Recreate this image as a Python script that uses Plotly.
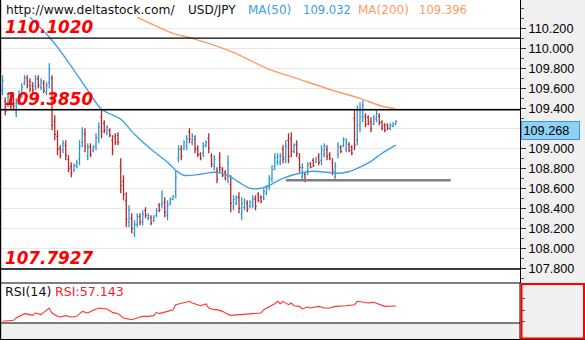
import plotly.graph_objects as go

# ---------------- data ----------------
bar_high = [109.73, 109.51, 109.56, 109.53, 109.55, 109.50, 109.58, 109.65, 109.73, 109.73,
            109.70, 109.66, 109.73, 109.73, 109.70, 109.68, 109.66, 109.85, 109.73, 109.33,
            109.18, 109.03, 109.08, 109.08, 108.93, 108.86, 108.85, 108.88, 109.08, 109.21,
            109.20, 109.05, 109.05, 109.03, 109.15, 109.26, 109.38, 109.28, 109.23, 109.20,
            109.13, 109.15, 109.16, 108.90, 108.73, 108.56, 108.43, 108.35, 108.28, 108.35,
            108.35, 108.38, 108.41, 108.35, 108.33, 108.33, 108.40, 108.45, 108.58, 108.51,
            108.48, 108.51, 108.53, 108.78, 109.03, 109.03, 109.08, 109.13, 109.20, 109.15,
            109.13, 109.03, 108.96, 109.06, 109.08, 109.15, 108.95, 108.93, 108.81, 108.96,
            108.81, 108.78, 108.93, 108.73, 108.53, 108.53, 108.56, 108.51, 108.50, 108.48,
            108.48, 108.53, 108.53, 108.56, 108.53, 108.60, 108.63, 108.73, 108.83, 108.95,
            108.95, 108.95, 109.03, 109.08, 109.15, 109.16, 109.05, 109.08, 108.95, 108.85,
            108.76, 108.86, 108.86, 108.90, 108.91, 108.95, 109.03, 109.05, 109.03, 108.96,
            108.90, 108.86, 109.06, 109.03, 109.11, 109.10, 109.06, 109.03, 109.38, 109.43,
            109.46, 109.48, 109.35, 109.33, 109.31, 109.33, 109.38, 109.35, 109.28, 109.25,
            109.25, 109.25, 109.26, 109.28]
bar_low = [109.53, 109.33, 109.41, 109.38, 109.38, 109.31, 109.43, 109.50, 109.63, 109.60,
           109.56, 109.55, 109.58, 109.60, 109.58, 109.55, 109.53, 109.60, 109.18, 109.08,
           108.93, 108.90, 108.95, 108.88, 108.76, 108.71, 108.76, 108.80, 108.83, 109.01,
           108.96, 108.88, 108.91, 108.96, 108.98, 109.05, 109.10, 109.15, 109.13, 109.11,
           108.93, 109.03, 109.03, 108.55, 108.48, 108.21, 108.21, 108.15, 108.11, 108.21,
           108.23, 108.23, 108.30, 108.28, 108.23, 108.26, 108.31, 108.36, 108.40, 108.31,
           108.28, 108.43, 108.48, 108.50, 108.86, 108.88, 108.98, 108.98, 109.05, 109.03,
           108.95, 108.91, 108.88, 108.91, 109.01, 108.95, 108.81, 108.78, 108.65, 108.76,
           108.71, 108.68, 108.65, 108.36, 108.38, 108.43, 108.35, 108.28, 108.38, 108.36,
           108.40, 108.40, 108.38, 108.46, 108.45, 108.48, 108.53, 108.58, 108.66, 108.78,
           108.83, 108.83, 108.85, 108.85, 108.85, 108.91, 108.95, 108.91, 108.76, 108.68,
           108.66, 108.73, 108.80, 108.81, 108.85, 108.83, 108.83, 108.91, 108.88, 108.88,
           108.73, 108.68, 108.90, 108.95, 109.01, 108.96, 108.96, 108.93, 108.98, 109.03,
           109.16, 109.26, 109.21, 109.23, 109.16, 109.23, 109.26, 109.23, 109.18, 109.16,
           109.18, 109.18, 109.21, 109.23]
bar_open = [109.58, 109.47, 109.45, 109.49, 109.51, 109.36, 109.47, 109.54, 109.65, 109.70,
            109.67, 109.63, 109.62, 109.70, 109.61, 109.65, 109.56, 109.66, 109.70, 109.27,
            109.12, 109.00, 108.98, 109.03, 108.89, 108.82, 108.78, 108.82, 108.89, 109.06,
            109.14, 108.92, 109.02, 108.98, 109.02, 109.10, 109.31, 109.25, 109.15, 109.18,
            109.08, 109.12, 109.13, 108.82, 108.67, 108.48, 108.26, 108.30, 108.15, 108.24,
            108.32, 108.27, 108.38, 108.30, 108.31, 108.28, 108.33, 108.43, 108.44, 108.46,
            108.33, 108.45, 108.49, 108.57, 108.90, 108.99, 109.00, 109.02, 109.16, 109.06,
            109.09, 109.00, 108.94, 108.95, 109.03, 109.10, 108.92, 108.82, 108.77, 108.91,
            108.79, 108.76, 108.72, 108.64, 108.42, 108.45, 108.51, 108.34, 108.41, 108.45,
            108.42, 108.43, 108.49, 108.54, 108.51, 108.51, 108.55, 108.62, 108.70, 108.82,
            108.86, 108.86, 108.99, 108.91, 109.08, 109.10, 108.97, 109.04, 108.90, 108.72,
            108.74, 108.76, 108.85, 108.88, 108.86, 108.92, 108.88, 108.94, 108.99, 108.94,
            108.86, 108.72, 108.94, 109.01, 109.03, 108.99, 109.04, 109.01, 109.30, 109.08,
            109.23, 109.31, 109.32, 109.31, 109.27, 109.25, 109.29, 109.32, 109.26, 109.23,
            109.23, 109.20, 109.22, 109.24]
bar_close = [109.68, 109.37, 109.52, 109.42, 109.42, 109.45, 109.54, 109.61, 109.71, 109.63,
             109.59, 109.58, 109.69, 109.63, 109.67, 109.58, 109.63, 109.79, 109.23, 109.14,
             108.99, 108.93, 109.05, 108.93, 108.80, 108.75, 108.83, 108.86, 109.02, 109.16,
             109.02, 109.01, 108.94, 109.01, 109.11, 109.21, 109.17, 109.18, 109.21, 109.13,
             108.98, 109.06, 109.06, 108.63, 108.54, 108.29, 108.38, 108.20, 108.24, 108.32,
             108.26, 108.34, 108.33, 108.33, 108.25, 108.31, 108.38, 108.38, 108.54, 108.36,
             108.43, 108.49, 108.52, 108.71, 108.99, 108.92, 109.06, 109.09, 109.09, 109.12,
             108.99, 108.94, 108.90, 109.02, 109.06, 109.00, 108.84, 108.89, 108.69, 108.81,
             108.73, 108.70, 108.86, 108.45, 108.49, 108.51, 108.40, 108.45, 108.47, 108.39,
             108.46, 108.50, 108.42, 108.48, 108.47, 108.57, 108.61, 108.69, 108.79, 108.91,
             108.92, 108.92, 108.89, 109.02, 108.92, 108.97, 109.03, 108.95, 108.81, 108.81,
             108.68, 108.83, 108.81, 108.83, 108.90, 108.86, 108.98, 109.02, 108.92, 108.90,
             108.77, 108.82, 109.02, 108.97, 109.09, 109.07, 108.98, 108.95, 109.03, 109.38,
             109.39, 109.43, 109.24, 109.25, 109.20, 109.31, 109.35, 109.26, 109.20, 109.18,
             109.20, 109.23, 109.25, 109.268]
bar_index = list(range(len(bar_close)))

ma50_index = [10, 18, 24, 31, 36, 43, 48, 54, 60, 63, 66, 72, 77, 82, 86, 90, 94, 97, 102,
              108, 113, 118, 122, 125, 129, 134, 138, 143]
ma50_value = [110.31, 110.08, 109.86, 109.58, 109.39, 109.29, 109.14, 108.99, 108.86, 108.78,
              108.73, 108.74, 108.76, 108.73, 108.66, 108.60, 108.60, 108.63, 108.70, 108.75,
              108.77, 108.76, 108.75, 108.76, 108.80, 108.87, 108.95, 109.032]
ma200_index = [49, 62, 69, 84, 96, 108, 120, 130, 138, 143]
ma200_value = [110.31, 110.15, 110.10, 109.96, 109.80, 109.69, 109.58, 109.50, 109.42, 109.396]

rsi_index = [0, 4, 5, 8, 10, 11, 12, 14, 15, 17, 18, 20, 21, 23, 25, 27, 29, 31, 33, 35,
             38, 40, 42, 44, 47, 49, 51, 53, 55, 56, 57, 60, 62, 63, 66, 68, 69, 72, 74, 75,
             77, 78, 80, 81, 83, 86, 89, 91, 94, 95, 97, 99, 100, 101, 102, 104, 105, 106, 108, 109,
             111, 112, 115, 117, 119, 121, 125, 128, 129, 131, 133, 135, 137, 139, 143]
rsi_value = [29.8, 31.6, 35.7, 43.5, 41.7, 40.5, 44.6, 41.7, 45.8, 53.6,
             44.6, 38.7, 37.5, 39.9, 37.5, 38.7, 47.6, 44.6, 49.4, 53.6,
             51.8, 45.8, 43.5, 35.7, 32.7, 35.1, 38.7, 38.7, 39.9, 45.8,
             43.5, 47.6, 50.6, 59.5, 63.7, 65.5, 62.5, 57.7, 60.7, 53.6,
             50.6, 50.6, 47.6, 44.6, 40.5, 41.7, 41.7, 42.9, 44.6, 50.6,
             55.4, 61.3, 65.5, 61.3, 65.5, 59.5, 62.5, 57.7, 56.5, 51.8,
             55.4, 53.6, 56.5, 53.6, 53.6, 56.5, 57.7, 59.5, 65.5, 63.7,
             62.5, 63.7, 59.5, 56.5, 57.143]

level_values = [110.1020, 109.3850, 107.7927]
support_level = 108.68
support_span = [103, 163]

price_ticks = [107.8, 108.0, 108.2, 108.4, 108.6, 108.8, 109.0, 109.2, 109.4,
               109.6, 109.8, 110.0, 110.2]
# 109.200 label is hidden behind the last-price box in the reference
price_tick_labels = ["107.800", "108.000", "108.200", "108.400", "108.600", "108.800",
                     "109.000", "", "109.400", "109.600", "109.800", "110.000", "110.200"]
rsi_ticks = [30, 50, 70]

assert len(bar_high) == len(bar_low) == len(bar_open) == len(bar_close)
assert len(ma50_index) == len(ma50_value) and len(ma200_index) == len(ma200_value)
assert len(rsi_index) == len(rsi_value)

# ---------------- layout geometry (pixels) ----------------
W, H = 585, 340
PLOT_L, PLOT_R = 1, 520
MAIN_TOP, MAIN_BOT = 0, 283
RSI_TOP, RSI_BOT = 283, 323
BAR_SP = 2.75
BAR0_PX = 2.5


def px_x(p):
    return p / W


def px_y(p):
    return 1 - p / H


x_lo = -(BAR0_PX - PLOT_L) / BAR_SP
x_hi = x_lo + (PLOT_R - PLOT_L) / BAR_SP

BLUE = "#2a96d8"
RED = "#b3262b"
MA50_C = "#3fa2de"
MA200_C = "#ff9a66"
FONT = "DejaVu Sans"
TICKFONT = "Liberation Sans"

fig = go.Figure()

fig.add_trace(go.Ohlc(
    x=bar_index, open=bar_open, high=bar_high, low=bar_low, close=bar_close,
    increasing=dict(line=dict(color=BLUE, width=1.3)),
    decreasing=dict(line=dict(color=RED, width=1.3)),
    tickwidth=0.42, hoverinfo="skip", xaxis="x", yaxis="y", showlegend=False))

fig.add_trace(go.Scatter(x=ma50_index, y=ma50_value, mode="lines",
                         line=dict(color=MA50_C, width=1.4, shape="spline", smoothing=0.8),
                         hoverinfo="skip", showlegend=False, xaxis="x", yaxis="y"))
fig.add_trace(go.Scatter(x=ma200_index, y=ma200_value, mode="lines",
                         line=dict(color=MA200_C, width=1.4, shape="spline", smoothing=0.6),
                         hoverinfo="skip", showlegend=False, xaxis="x", yaxis="y"))
fig.add_trace(go.Scatter(x=[support_span[0], support_span[1]], y=[support_level, support_level],
                         mode="lines", line=dict(color="#808080", width=2.6),
                         hoverinfo="skip", showlegend=False, xaxis="x", yaxis="y"))

fig.add_trace(go.Scatter(x=rsi_index, y=rsi_value, mode="lines",
                         line=dict(color="#ff3333", width=1.1),
                         hoverinfo="skip", showlegend=False, xaxis="x2", yaxis="y2"))

y_top = price_ticks[-1] + 28.3 / 100 * (price_ticks[-1] - price_ticks[0]) / 2.4
y_bot = price_ticks[0] - (MAIN_BOT - 268.3) / 100 * (price_ticks[-1] - price_ticks[0]) / 2.4

shapes = []
shapes.append(dict(type="rect", xref="paper", yref="paper", x0=px_x(PLOT_R), x1=1,
                   y0=0, y1=1, fillcolor="#f0f0f0", line=dict(width=0), layer="below"))
shapes.append(dict(type="rect", xref="paper", yref="paper", x0=0, x1=px_x(PLOT_R),
                   y0=0, y1=px_y(RSI_BOT), fillcolor="#f0f0f0", line=dict(width=0), layer="below"))
for lv in level_values:
    shapes.append(dict(type="line", xref="x domain", yref="y", x0=0, x1=1, y0=lv, y1=lv,
                       line=dict(color="#000000", width=1.4), layer="above"))
shapes.append(dict(type="line", xref="paper", yref="paper", x0=0, x1=px_x(PLOT_R),
                   y0=px_y(MAIN_BOT), y1=px_y(MAIN_BOT), line=dict(color="#000", width=1.2)))
shapes.append(dict(type="line", xref="paper", yref="paper", x0=0, x1=px_x(PLOT_R),
                   y0=px_y(RSI_BOT), y1=px_y(RSI_BOT), line=dict(color="#000", width=1.2)))
shapes.append(dict(type="line", xref="paper", yref="paper", x0=0, x1=1,
                   y0=px_y(339.5), y1=px_y(339.5), line=dict(color="#000", width=1.2)))
shapes.append(dict(type="line", xref="paper", yref="paper", x0=px_x(0.6), x1=px_x(0.6),
                   y0=0, y1=1, line=dict(color="#000", width=1.2)))
shapes.append(dict(type="line", xref="paper", yref="paper", x0=px_x(PLOT_R), x1=px_x(PLOT_R),
                   y0=px_y(RSI_TOP), y1=px_y(339.5), line=dict(color="#000", width=1)))
shapes.append(dict(type="rect", xref="paper", yref="paper", x0=px_x(521.5), x1=px_x(584),
                   y0=px_y(338.5), y1=px_y(284), line=dict(color="#ff0000", width=2),
                   fillcolor="rgba(0,0,0,0)"))

ann = []


def label(text, xpx, ypx, color, size=12.0, font=FONT):
    ann.append(dict(text=text, xref="paper", yref="paper", x=px_x(xpx), y=px_y(ypx),
                    xanchor="left", yanchor="middle", showarrow=False,
                    font=dict(family=font, size=size, color=color)))


label("http://www.deltastock.com/", 3.5, 9.5, "#111111", size=12.3)
label("USD/JPY", 186, 9.5, "#111111")
label("MA(50)", 245.5, 9.5, "#3a9ee0")
label(f"{ma50_value[-1]:.3f}", 300.5, 9.5, "#3a9ee0", size=11.6)
label("MA(200)", 356, 9.5, "#ff9a66")
label(f"{ma200_value[-1]:.3f}", 416.5, 9.5, "#ff9a66", size=11.6)
label("RSI(14)", 2.5, 291.5, "#111111", size=12.6)
label(f"RSI:{rsi_value[-1]:.3f}", 52.5, 291.5, "#ff2020", size=12.6)

for lv in level_values:
    ann.append(dict(text=f"<b><i>{lv:.4f}</i></b>", xref="paper", yref="y", x=px_x(2.5), y=lv,
                    yshift=11, xanchor="left", yanchor="middle", showarrow=False,
                    font=dict(family=FONT, size=16.8, color="#ff0000")))

ann.append(dict(text=f"{bar_close[-1]:.3f}", xref="paper", yref="y", x=px_x(520.5), y=bar_close[-1],
                yshift=-9, xanchor="left", yanchor="middle", showarrow=False,
                font=dict(family=TICKFONT, size=12.7, color="#000000"),
                bgcolor="#8fd0f5", bordercolor="#3a98dc", borderwidth=1, borderpad=1.5,
                width=54, align="left"))

fig.update_layout(
    width=W, height=H, margin=dict(l=0, r=0, t=0, b=0),
    paper_bgcolor="#ffffff", plot_bgcolor="#ffffff",
    showlegend=False, hovermode=False,
    shapes=shapes, annotations=ann,
    xaxis=dict(domain=[px_x(PLOT_L), px_x(PLOT_R)], range=[x_lo, x_hi], showgrid=False,
               zeroline=False, showticklabels=False, ticks="", showline=False,
               rangeslider=dict(visible=False), fixedrange=True),
    yaxis=dict(domain=[px_y(MAIN_BOT), px_y(MAIN_TOP)], range=[y_bot, y_top], side="right",
               tickmode="array", tickvals=price_ticks, ticktext=price_tick_labels,
               ticks="outside", ticklen=5, tickcolor="#333333", tickwidth=1,
               showline=True, linecolor="#000000", linewidth=1,
               showgrid=True, gridcolor="#e8e8e8", gridwidth=1, zeroline=False,
               tickfont=dict(family=TICKFONT, size=12.7, color="#000000"),
               minor=dict(dtick=0.1, tick0=107.8, ticks="outside", ticklen=3,
                          tickcolor="#555555", showgrid=False),
               fixedrange=True),
    xaxis2=dict(domain=[px_x(PLOT_L), px_x(PLOT_R)], range=[x_lo, x_hi], anchor="y2",
                showgrid=False, zeroline=False, showticklabels=False, ticks="",
                showline=False, matches="x", fixedrange=True),
    yaxis2=dict(domain=[px_y(RSI_BOT), px_y(RSI_TOP)], range=[26.8, 98.2], anchor="x2",
                side="right", tickmode="array", tickvals=rsi_ticks, showticklabels=False,
                ticks="outside", ticklen=4, tickcolor="#555555", showgrid=False,
                zeroline=False, showline=False, fixedrange=True),
)

fig.write_html("out.html")
